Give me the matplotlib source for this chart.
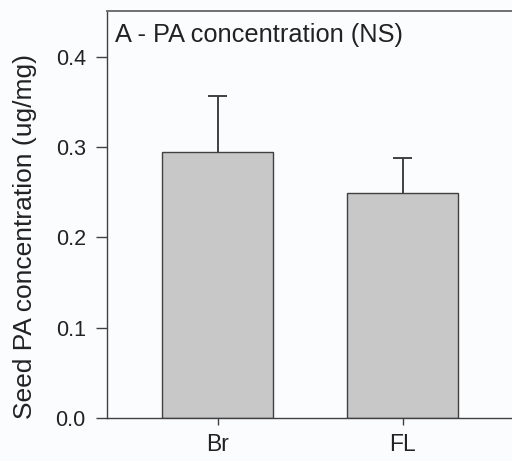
import matplotlib
matplotlib.use('Agg')
import matplotlib.pyplot as plt

# Data
groups = ['Br', 'FL']
means = [0.295, 0.249]
errors = [0.061, 0.039]

plt.rcParams['font.family'] = ['Liberation Sans', 'DejaVu Sans']

fig = plt.figure(figsize=(5.12, 4.61), dpi=100)
fig.patch.set_facecolor('#fbfcfe')
ax = fig.add_axes([0.2084, 0.0933, 0.80, 0.8835])
ax.set_facecolor('#fbfcfe')

edge = '#404040'
pos = list(range(len(groups)))
ax.bar(pos, means, width=0.6, color='#c8c8c8', edgecolor=edge, linewidth=1.0, zorder=2)

# upper error bars only
tops = [m + e for m, e in zip(means, errors)]
ax.vlines(pos, means, tops, color=edge, linewidth=1.4, zorder=1)
ax.hlines(tops, [p - 0.05 for p in pos], [p + 0.05 for p in pos], color=edge, linewidth=1.4)

ax.set_xlim(-0.6, 1.614)
ax.set_ylim(0, 0.451)
ax.set_yticks([0.0, 0.1, 0.2, 0.3, 0.4])
ax.set_yticklabels(['0.0', '0.1', '0.2', '0.3', '0.4'])
ax.set_xticks(pos)
ax.set_xticklabels(groups)

for s in ax.spines.values():
    s.set_color(edge)
    s.set_linewidth(1.0)
ax.spines['top'].set_color('#707070')
ax.spines['top'].set_linewidth(1.4)

ax.tick_params(axis='y', direction='out', length=8, width=1.0, color=edge, labelsize=15.5, labelcolor='#222222', pad=7)
ax.tick_params(axis='x', direction='out', length=5, width=1.0, color=edge, labelsize=16.5, labelcolor='#222222', pad=6)

ax.set_ylabel('Seed PA concentration (ug/mg)', fontsize=19, color='#222222')
ax.yaxis.set_label_coords(-0.17, 0.445)
ax.text(0.02, 0.97, 'A - PA concentration (NS)', transform=ax.transAxes,
        ha='left', va='top', fontsize=18.3, color='#222222')

fig.savefig('out.png', dpi=100, facecolor=fig.get_facecolor())
